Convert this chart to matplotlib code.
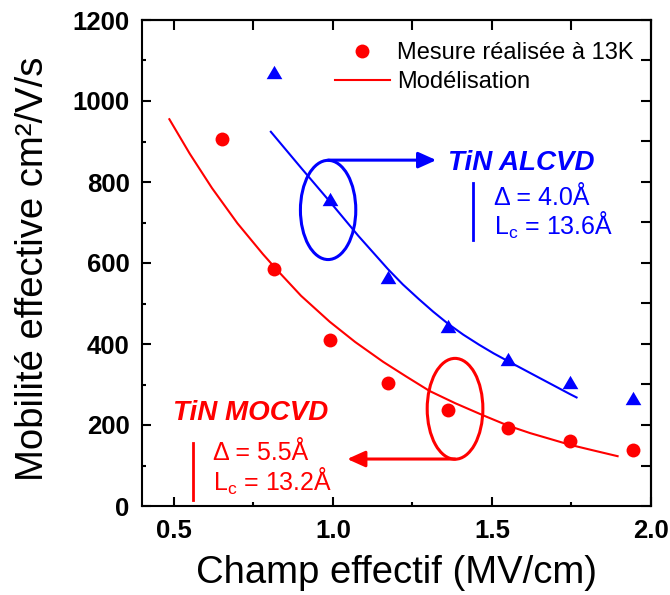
import matplotlib
matplotlib.use("Agg")
import matplotlib.pyplot as plt
from matplotlib.patches import Ellipse
from matplotlib.lines import Line2D
from matplotlib.ticker import MultipleLocator, FixedLocator

plt.rcParams['font.family'] = ['Liberation Sans', 'DejaVu Sans']
plt.rcParams['mathtext.fontset'] = 'custom'
plt.rcParams['mathtext.rm'] = 'Liberation Sans'

# Measured effective mobility at 13 K
field_meas = [0.653, 0.815, 0.99, 1.173, 1.362, 1.552, 1.746, 1.943]
mob_mocvd = [905, 585, 410, 304, 237, 192, 160, 138]
field_alcvd = [0.815, 0.99, 1.173, 1.362, 1.552, 1.746, 1.943]
mob_alcvd = [1072, 758, 566, 444, 363, 307, 266]

# Model curves
field_mod_mocvd = [0.486, 0.55, 0.62, 0.70, 0.78, 0.823, 0.90, 0.99, 1.07, 1.158,
                   1.23, 1.304, 1.384, 1.472, 1.552, 1.62, 1.681, 1.746, 1.82, 1.895]
mob_mod_mocvd = [955, 870, 785, 698, 622, 584, 519, 455, 405, 356,
                 320, 284, 254, 224, 198, 180, 166, 151, 137, 123]
field_mod_alcvd = [0.805, 0.90, 0.99, 1.08, 1.173, 1.22, 1.27, 1.315, 1.362, 1.41,
                   1.46, 1.505, 1.552, 1.65, 1.746, 1.766]
mob_mod_alcvd = [924, 835, 752, 667, 585, 547, 511, 480, 450, 423,
                 398, 377, 357, 316, 276, 268]

x_ticks = [0.5, 1.0, 1.5, 2.0]
x_ticklabels = ["0.5", "1.0", "1.5", "2.0"]
y_ticks = [0, 200, 400, 600, 800, 1000, 1200]

RED = '#ff0000'
BLUE = '#0000ff'

fig = plt.figure(figsize=(6.7, 5.95), dpi=100)
ax = fig.add_axes([142 / 670, 89 / 595, 509 / 670, 486 / 595])

ax.plot(field_mod_mocvd, mob_mod_mocvd, color=RED, lw=1.5, zorder=2)
ax.plot(field_mod_alcvd, mob_mod_alcvd, color=BLUE, lw=1.5, zorder=2)
ax.plot(field_meas, mob_mocvd, 'o', color=RED, ms=10, mec='none', zorder=3)
tri = [(-1, -0.85), (1, -0.85), (0, 0.85)]
ax.plot(field_alcvd, mob_alcvd, marker=tri, ls='none', color=BLUE, ms=11.3, mec='none', zorder=3)

ax.set_xlim(0.4, 2.0)
ax.set_ylim(0, 1200)
ax.xaxis.set_major_locator(FixedLocator(x_ticks))
ax.set_xticklabels(x_ticklabels)
ax.xaxis.set_minor_locator(MultipleLocator(0.25))
ax.yaxis.set_major_locator(FixedLocator(y_ticks))
ax.yaxis.set_minor_locator(MultipleLocator(100))
ax.tick_params(which='major', direction='in', length=6.5, width=1.5, pad=9,
               labelsize=18.5)
ax.tick_params(which='minor', direction='in', length=3, width=1.5)
for lab in ax.get_xticklabels() + ax.get_yticklabels():
    lab.set_fontweight('bold')
for sp in ax.spines.values():
    sp.set_linewidth(1.5)

# Top and right edges carry equal-length ticks without labels
top = ax.secondary_xaxis('top')
top.xaxis.set_major_locator(MultipleLocator(0.25))
top.tick_params(direction='in', length=7, width=1.5, labeltop=False)
right = ax.secondary_yaxis('right')
right.yaxis.set_major_locator(MultipleLocator(100))
right.tick_params(direction='in', length=7, width=1.5, labelright=False)
for s in (top, right):
    for sp in s.spines.values():
        sp.set_linewidth(1.5)

ax.set_xlabel('Champ effectif (MV/cm)', fontsize=27.5, va='top')
ax.xaxis.set_label_coords(0.5, -0.100)
ax.set_ylabel('Mobilité effective cm²/V/s', fontsize=27.5)
ax.yaxis.set_label_coords(-0.179, 0.488)

handles = [Line2D([], [], marker='o', ls='none', color=RED, ms=10, mec='none'),
           Line2D([], [], color=RED, lw=1.5)]
ax.legend(handles, ['Mesure réalisée à 13K', 'Modélisation'], loc='upper right',
          bbox_to_anchor=(0.965, 0.955), frameon=False, fontsize=17,
          handlelength=2.3, handletextpad=0.3, labelspacing=0.32,
          borderpad=0, borderaxespad=0)

# ALCVD annotation
ax.add_patch(Ellipse((0.985, 731), 0.174, 245, fill=False, ec=BLUE, lw=2.2, zorder=4))
ax.annotate('', xy=(1.325, 854), xytext=(0.985, 854),
            arrowprops=dict(arrowstyle='-|>,head_length=0.4,head_width=0.18',
                            mutation_scale=27, color=BLUE, lw=2.2,
                            shrinkA=0, shrinkB=0))
ax.text(1.361, 830, 'TiN ALCVD', color=BLUE, fontsize=20, fontweight='bold',
        fontstyle='italic', ha='left', va='baseline')
ax.plot([1.440, 1.440], [658, 798], color=BLUE, lw=2)
ax.text(1.505, 743, 'Δ = 4.0Å', color=BLUE, fontsize=18, ha='left', va='baseline')
ax.text(1.505, 669, 'L$_\\mathrm{c}$ = 13.6Å', color=BLUE, fontsize=18, ha='left', va='baseline')

# MOCVD annotation
ax.add_patch(Ellipse((1.384, 240), 0.175, 249, fill=False, ec=RED, lw=2.2, zorder=4))
ax.annotate('', xy=(1.045, 116), xytext=(1.384, 116),
            arrowprops=dict(arrowstyle='-|>,head_length=0.4,head_width=0.18',
                            mutation_scale=27, color=RED, lw=2.2,
                            shrinkA=0, shrinkB=0))
ax.text(0.496, 212, 'TiN MOCVD', color=RED, fontsize=20, fontweight='bold',
        fontstyle='italic', ha='left', va='baseline')
ax.plot([0.561, 0.561], [15, 156], color=RED, lw=2)
ax.text(0.624, 114, 'Δ = 5.5Å', color=RED, fontsize=18, ha='left', va='baseline')
ax.text(0.624, 38, 'L$_\\mathrm{c}$ = 13.2Å', color=RED, fontsize=18, ha='left', va='baseline')

fig.savefig('out.png', dpi=100)
